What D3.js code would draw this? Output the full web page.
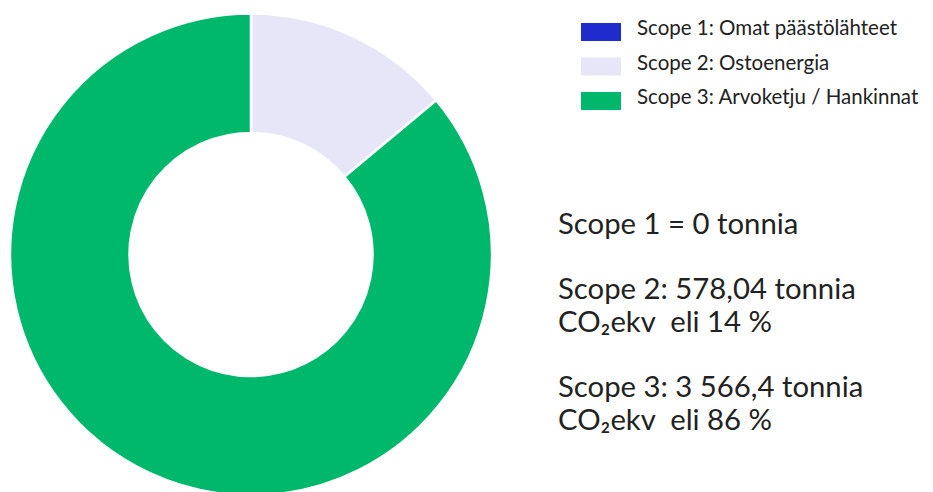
<!DOCTYPE html>
<html><head><meta charset="utf-8">
<script src="https://cdn.jsdelivr.net/npm/d3@7"></script>
<style>
html,body{margin:0;padding:0;background:#fff;}
svg{display:block;font-family:Lato,"Noto Sans",sans-serif;}
</style></head>
<body>
<svg id="c" width="933" height="492"></svg>
<script>
const categories = ["Scope 1: Omat päästölähteet", "Scope 2: Ostoenergia", "Scope 3: Arvoketju / Hankinnat"];
const values = [0, 578.04, 3566.4];
const colors = ["#1f2bcc", "#e6e6f8", "#00b86b"];
const notes = [
  ["Scope 1 = 0 tonnia"],
  ["Scope 2: 578,04 tonnia", "CO₂ekv  eli 14 %"],
  ["Scope 3: 3 566,4 tonnia", "CO₂ekv  eli 86 %"]
];

const svg = d3.select("#c");
const cx = 251, cy = 254.5, rOuter = 241, rInner = 121.5;

const pie = d3.pie().sort(null).value(d => d.v);
const arcs = pie(categories.map((c, i) => ({c, v: values[i], col: colors[i]})));
const arc = d3.arc().innerRadius(rInner).outerRadius(rOuter);

svg.append("g").attr("transform", `translate(${cx},${cy})`)
  .selectAll("path").data(arcs.filter(d => d.data.v > 0)).join("path")
  .attr("d", arc)
  .attr("fill", d => d.data.col)
  .attr("stroke", "#fff")
  .attr("stroke-width", 2.5);

// legend
const leg = svg.append("g").attr("transform", "translate(581,23)");
const rowH = 34.5;
const items = leg.selectAll("g").data(categories).join("g")
  .attr("transform", (d, i) => `translate(0,${i * rowH})`);
items.append("rect").attr("width", 40).attr("height", 18).attr("fill", (d, i) => colors[i]);
items.append("text").attr("x", 56).attr("y", 12).attr("font-size", 20.5).attr("fill", "#222").text(d => d);

// notes
const noteTop = [234, 299, 397];
const lineH = 33;
const ng = svg.append("g");
notes.forEach((lines, i) => {
  lines.forEach((t, j) => {
    ng.append("text").attr("x", 558).attr("y", noteTop[i] + j * lineH)
      .attr("font-size", 29.3).attr("fill", "#222").attr("xml:space", "preserve")
      .style("white-space", "pre").text(t);
  });
});
</script>
</body></html>
